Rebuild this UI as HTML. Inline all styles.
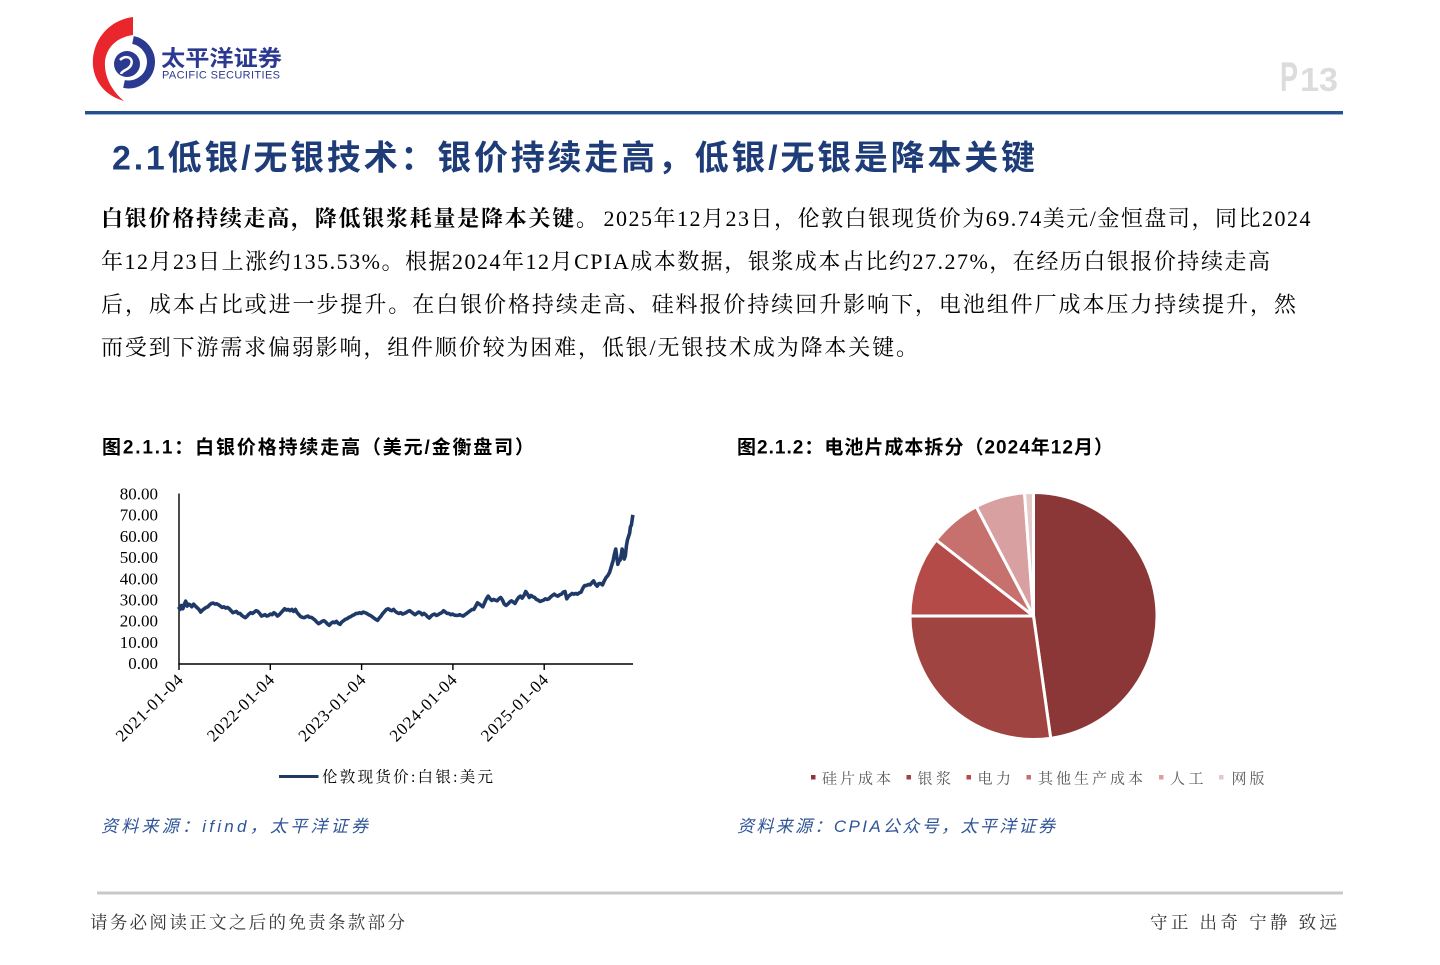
<!DOCTYPE html>
<html lang="zh-CN">
<head>
<meta charset="utf-8">
<title>P13</title>
<style>
  html, body { margin: 0; padding: 0; background: #ffffff; }
  svg { display: block; }
  .sans { font-family: "Liberation Sans", "Noto Sans CJK SC", sans-serif; }
  .serif { font-family: "Liberation Serif", "Noto Serif CJK SC", serif; }
</style>
</head>
<body>
<svg width="1440" height="965" viewBox="0 0 1440 965" xmlns="http://www.w3.org/2000/svg">
  <rect x="0" y="0" width="1440" height="965" fill="#ffffff"/>

  <!-- Logo -->
  <path d="M133,17 C108,20 91,42 93,66 C95,84 107,96 124,101 C111,90 104,76 105,61 C107,46 118,37 133,35 Z" fill="#E8262B"/>
  <path d="M133,40 A22,22 0 1 1 124,84" fill="none" stroke="#2B3990" stroke-width="8"/>
  <circle cx="127" cy="64" r="13" fill="#2B3990"/>
  <path d="M120,60 C126,54 134,58 131,65 C129,70 122,70 121,74" fill="none" stroke="#ffffff" stroke-width="2.5"/>
  <text x="161" y="66" class="sans" font-size="22" font-weight="bold" fill="#2B3990" textLength="121" lengthAdjust="spacingAndGlyphs">太平洋证券</text>
  <text x="162" y="78.5" class="sans" font-size="11" fill="#2B3990" textLength="118" lengthAdjust="spacing">PACIFIC SECURITIES</text>

  <!-- Page number -->
  <text x="1280" y="91" class="sans" font-size="42" font-weight="bold" fill="#DCDCDC" textLength="18" lengthAdjust="spacingAndGlyphs">P</text>
  <text x="1300" y="91" class="sans" font-size="33" font-weight="bold" fill="#DCDCDC" textLength="38" lengthAdjust="spacingAndGlyphs">13</text>

  <!-- Header rule -->
  <rect x="85" y="111" width="1258" height="3" fill="#24508F"/>
  <rect x="85" y="114" width="1258" height="1" fill="#9DB2D2"/>

  <!-- Title -->
  <text x="112" y="169.5" class="sans" font-size="34" font-weight="bold" fill="#1E3C78" textLength="923" lengthAdjust="spacing">2.1低银/无银技术：银价持续走高，低银/无银是降本关键</text>

  <!-- Paragraph -->
  <text x="101" y="226" class="serif" font-size="22" font-weight="bold" fill="#000" textLength="497" lengthAdjust="spacing">白银价格持续走高，降低银浆耗量是降本关键。</text>
  <text x="603.5" y="226" class="serif" font-size="22" fill="#000" textLength="707" lengthAdjust="spacing">2025年12月23日，伦敦白银现货价为69.74美元/金恒盘司，同比2024</text>
  <text x="101" y="269" class="serif" font-size="22" fill="#000" textLength="1169" lengthAdjust="spacing">年12月23日上涨约135.53%。根据2024年12月CPIA成本数据，银浆成本占比约27.27%，在经历白银报价持续走高</text>
  <text x="101" y="312" class="serif" font-size="22" fill="#000" textLength="1195" lengthAdjust="spacing">后，成本占比或进一步提升。在白银价格持续走高、硅料报价持续回升影响下，电池组件厂成本压力持续提升，然</text>
  <text x="101" y="355" class="serif" font-size="22" fill="#000" textLength="817" lengthAdjust="spacing">而受到下游需求偏弱影响，组件顺价较为困难，低银/无银技术成为降本关键。</text>

  <!-- Figure titles -->
  <text x="102" y="453.5" class="sans" font-size="19" font-weight="bold" fill="#000" textLength="432" lengthAdjust="spacing">图2.1.1：白银价格持续走高（美元/金衡盘司）</text>
  <text x="737" y="453.5" class="sans" font-size="19" font-weight="bold" fill="#000" textLength="376" lengthAdjust="spacing">图2.1.2：电池片成本拆分（2024年12月）</text>

  <!-- Line chart: y axis labels -->
  <g class="serif" font-size="17" fill="#000" text-anchor="end">
    <text x="158" y="499.5">80.00</text>
    <text x="158" y="520.7">70.00</text>
    <text x="158" y="541.9">60.00</text>
    <text x="158" y="563.1">50.00</text>
    <text x="158" y="584.3">40.00</text>
    <text x="158" y="605.5">30.00</text>
    <text x="158" y="626.7">20.00</text>
    <text x="158" y="647.9">10.00</text>
    <text x="158" y="669.1">0.00</text>
  </g>
  <!-- axes -->
  <line x1="179" y1="493.5" x2="179" y2="664" stroke="#000" stroke-width="1.4"/>
  <line x1="178.3" y1="664" x2="633" y2="664" stroke="#000" stroke-width="1.4"/>
  <g stroke="#000" stroke-width="1.4">
    <line x1="179" y1="664" x2="179" y2="670"/>
    <line x1="270.3" y1="664" x2="270.3" y2="670"/>
    <line x1="361.6" y1="664" x2="361.6" y2="670"/>
    <line x1="452.9" y1="664" x2="452.9" y2="670"/>
    <line x1="544.2" y1="664" x2="544.2" y2="670"/>
  </g>
  <!-- x labels -->
  <g class="serif" font-size="17" fill="#000" text-anchor="end">
    <text transform="translate(184,681) rotate(-45)" textLength="87" lengthAdjust="spacing">2021-01-04</text>
    <text transform="translate(275.3,681) rotate(-45)" textLength="87" lengthAdjust="spacing">2022-01-04</text>
    <text transform="translate(366.6,681) rotate(-45)" textLength="87" lengthAdjust="spacing">2023-01-04</text>
    <text transform="translate(457.9,681) rotate(-45)" textLength="87" lengthAdjust="spacing">2024-01-04</text>
    <text transform="translate(549.2,681) rotate(-45)" textLength="87" lengthAdjust="spacing">2025-01-04</text>
  </g>
  <!-- series -->
  <g transform="translate(90,470.1) scale(0.35714,0.3317)">
    <polyline fill="none" stroke="#1F3A68" stroke-width="3.6" stroke-linejoin="round" vector-effect="non-scaling-stroke"
      points="248,412 252,420 256,408 260,418 264,405 268,395 272,410 276,404 280,406 285,412 290,404 295,410 300,415 305,420 310,428 315,422 320,418 325,414 330,412 335,406 340,402 345,401 350,404 355,403 360,406 365,410 370,414 375,412 380,416 385,414 390,418 395,424 400,430 405,428 410,426 415,432 420,432 425,438 430,442 435,445 440,440 445,434 450,430 455,432 460,428 465,424 470,426 475,432 480,440 485,438 490,436 495,440 500,438 505,434 510,436 515,430 520,434 525,440 530,436 535,430 540,424 545,418 550,422 555,420 560,424 565,420 570,426 575,420 580,430 585,436 590,442 595,444 600,445 605,442 610,440 615,444 620,444 625,448 630,452 635,458 640,463 645,460 650,456 655,454 660,458 665,464 670,468 675,462 680,458 685,460 690,456 695,462 700,465 705,458 710,454 715,450 720,448 725,444 730,442 735,438 740,436 745,432 750,432 755,430 760,432 765,428 770,430 775,432 780,436 785,438 790,442 795,446 800,450 805,453 810,446 815,440 820,432 825,426 830,420 835,418 840,422 845,424 850,420 855,426 860,430 865,432 870,430 875,434 880,432 885,430 890,426 895,424 900,428 905,432 910,436 915,432 920,428 925,430 930,436 935,432 940,436 945,442 950,446 955,440 960,436 965,434 970,438 975,436 980,432 985,430 990,424 995,428 1000,432 1005,432 1010,436 1015,434 1020,437 1025,438 1030,438 1035,436 1040,438 1045,440 1050,436 1055,432 1060,428 1065,424 1070,420 1075,420 1080,410 1085,400 1090,404 1095,408 1100,412 1105,400 1110,388 1115,380 1120,388 1125,393 1130,390 1135,392 1140,394 1145,388 1150,384 1155,392 1160,404 1165,408 1170,404 1175,398 1180,394 1185,398 1190,402 1195,392 1200,384 1205,380 1210,386 1215,378 1220,366 1225,374 1230,384 1235,378 1240,382 1245,384 1250,390 1255,392 1260,396 1265,394 1270,392 1275,388 1280,390 1285,388 1290,382 1295,378 1300,374 1305,378 1310,380 1315,376 1320,374 1325,368 1330,366 1335,388 1340,380 1345,376 1350,372 1355,374 1360,372 1365,374 1370,370 1375,368 1380,356 1385,348 1390,348 1395,345 1400,346 1405,340 1410,334 1415,344 1420,350 1425,342 1430,342 1435,346 1440,334 1445,324 1450,318 1455,308 1460,290 1465,272 1468,255 1472,238 1475,262 1478,284 1481,275 1485,270 1488,252 1490,238 1493,262 1496,268 1499,258 1502,228 1505,210 1508,200 1511,190 1513,172 1516,165 1518,150 1520,135"/>
  </g>
  <!-- line legend -->
  <line x1="279" y1="776.5" x2="318.5" y2="776.5" stroke="#1F3A68" stroke-width="3"/>
  <text x="322" y="782" class="serif" font-size="15.5" fill="#000" textLength="171" lengthAdjust="spacing">伦敦现货价:白银:美元</text>

  <!-- Pie chart -->
  <g stroke="#ffffff" stroke-width="3" stroke-linejoin="round">
    <path d="M1033.5,616 L1033.5,492.5 A123.5,123.5 0 0 1 1050.7,738.3 Z" fill="#8B3737"/>
    <path d="M1033.5,616 L1050.7,738.3 A123.5,123.5 0 0 1 910,616 Z" fill="#A04442"/>
    <path d="M1033.5,616 L910,616 A123.5,123.5 0 0 1 936.2,540.0 Z" fill="#B44B48"/>
    <path d="M1033.5,616 L936.2,540.0 A123.5,123.5 0 0 1 976.3,506.6 Z" fill="#C6716E"/>
    <path d="M1033.5,616 L976.3,506.6 A123.5,123.5 0 0 1 1024.5,492.8 Z" fill="#D8A0A0"/>
    <path d="M1033.5,616 L1024.5,492.8 A123.5,123.5 0 0 1 1033.5,492.5 Z" fill="#E6C9C9"/>
  </g>

  <!-- Pie legend -->
  <g class="serif" font-size="15" fill="#595959">
    <rect x="811" y="775" width="4.5" height="4.5" fill="#8B3737"/>
    <text x="822" y="783.5" textLength="69" lengthAdjust="spacing">硅片成本</text>
    <rect x="906.5" y="775" width="4.5" height="4.5" fill="#A04442"/>
    <text x="917.5" y="783.5" textLength="33.5" lengthAdjust="spacing">银浆</text>
    <rect x="966.5" y="775" width="4.5" height="4.5" fill="#B44B48"/>
    <text x="977.5" y="783.5" textLength="33.5" lengthAdjust="spacing">电力</text>
    <rect x="1026.5" y="775" width="4.5" height="4.5" fill="#C6716E"/>
    <text x="1038" y="783.5" textLength="105" lengthAdjust="spacing">其他生产成本</text>
    <rect x="1159" y="775" width="4.5" height="4.5" fill="#D8A0A0"/>
    <text x="1170" y="783.5" textLength="33.5" lengthAdjust="spacing">人工</text>
    <rect x="1219" y="775" width="4.5" height="4.5" fill="#E6C9C9"/>
    <text x="1231.5" y="783.5" textLength="33" lengthAdjust="spacing">网版</text>
  </g>

  <!-- Sources -->
  <text x="101" y="832" class="sans" font-size="17" font-style="italic" fill="#2F5597" textLength="267" lengthAdjust="spacing">资料来源：ifind，太平洋证券</text>
  <text x="737" y="832" class="sans" font-size="17" font-style="italic" fill="#2F5597" textLength="318" lengthAdjust="spacing">资料来源：CPIA公众号，太平洋证券</text>

  <!-- Footer -->
  <rect x="97" y="891.5" width="1246" height="3" fill="#C8C8C8"/>
  <text x="90" y="928.5" class="serif" font-size="17.5" fill="#333333" textLength="315" lengthAdjust="spacing">请务必阅读正文之后的免责条款部分</text>
  <text x="1150" y="928.5" class="serif" font-size="17.5" fill="#333333" textLength="187" lengthAdjust="spacing">守正 出奇 宁静 致远</text>
</svg>
</body>
</html>
